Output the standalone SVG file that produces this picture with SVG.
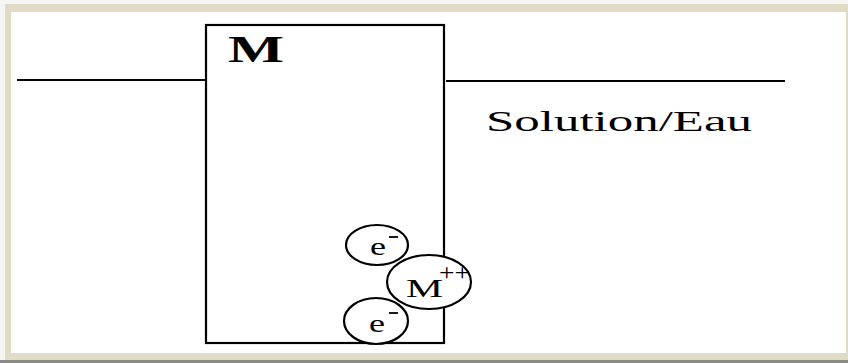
<svg xmlns="http://www.w3.org/2000/svg" width="848" height="363" viewBox="0 0 848 363">
<style>
.ln{stroke:#000;stroke-width:2.2;fill:none}
.bub{stroke:#000;stroke-width:2.2;fill:#fff}
.t{font-family:"Liberation Serif","Times New Roman",serif;fill:#000}
.e{font-size:26px}
.sup{stroke:#000;stroke-width:1.8}
</style>
<rect x="0" y="0" width="848" height="363" fill="#f6f6f4"/>
<rect x="5" y="4" width="843" height="356" fill="#e0dbc5"/>
<rect x="0" y="360" width="848" height="3" fill="#8a8a86"/>
<rect x="11" y="12" width="835" height="341" fill="#fff"/>
<g id="connectors">
<line class="ln" x1="17" y1="80" x2="206" y2="80"/>
<line class="ln" x1="446" y1="81" x2="785" y2="81"/>
</g>
<g id="metal">
<rect class="ln" x="206" y="25" width="238" height="318"/>
<text class="t" x="228" y="62" font-size="37" font-weight="bold" textLength="56" lengthAdjust="spacingAndGlyphs">M</text>
</g>
<g id="solution">
<text class="t" x="486" y="131" font-size="30" textLength="266" lengthAdjust="spacingAndGlyphs">Solution/Eau</text>
</g>
<g id="electron1">
<ellipse class="bub" cx="377" cy="245" rx="31" ry="20"/>
<text class="t e" x="370" y="255" textLength="16" lengthAdjust="spacingAndGlyphs">e</text>
<line class="sup" x1="389" y1="237" x2="398" y2="237"/>
</g>
<g id="electron2">
<ellipse class="bub" cx="376" cy="321" rx="32" ry="23"/>
<text class="t e" x="369" y="332" textLength="16" lengthAdjust="spacingAndGlyphs">e</text>
<line class="sup" x1="389" y1="313" x2="398" y2="313"/>
</g>
<g id="ion">
<ellipse class="bub" cx="429" cy="282" rx="42" ry="27"/>
<text class="t" x="406" y="297" font-size="26" textLength="37" lengthAdjust="spacingAndGlyphs">M</text>
<text class="t" x="439" y="280" font-size="24" textLength="31" lengthAdjust="spacingAndGlyphs">++</text>
</g>
</svg>
